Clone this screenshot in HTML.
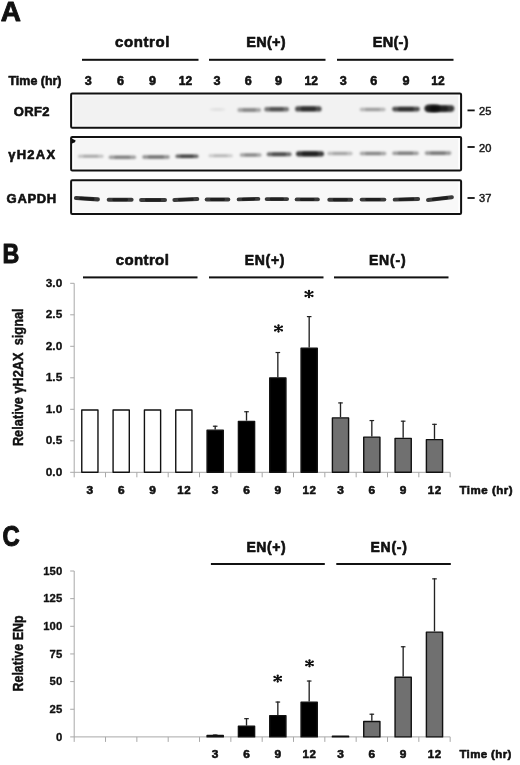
<!DOCTYPE html>
<html><head><meta charset="utf-8"><style>
html,body{margin:0;padding:0;background:#fff;}
svg{display:block;font-family:"Liberation Sans", sans-serif;-webkit-font-smoothing:antialiased;will-change:transform;}
</style></head><body>
<svg width="520" height="765" viewBox="0 0 520 765">
<defs><filter id="bl" filterUnits="userSpaceOnUse" x="0" y="0" width="520" height="765"><feGaussianBlur stdDeviation="1.0"/></filter><filter id="bl3" filterUnits="userSpaceOnUse" x="0" y="0" width="520" height="765"><feGaussianBlur stdDeviation="0.7"/></filter><filter id="bl2" filterUnits="userSpaceOnUse" x="0" y="0" width="520" height="765"><feGaussianBlur stdDeviation="0.4"/></filter></defs>
<rect width="520" height="765" fill="#fff"/>
<text x="0.8" y="21.1" font-size="28.5" font-weight="bold" text-anchor="start" fill="#111" stroke="#111" stroke-width="0.9" stroke-linejoin="round" textLength="20.2" lengthAdjust="spacingAndGlyphs">A</text>
<rect x="82.00" y="58.80" width="116.50" height="2.00" fill="#111"/>
<rect x="209.00" y="58.80" width="116.50" height="2.00" fill="#111"/>
<rect x="337.00" y="58.80" width="116.50" height="2.00" fill="#111"/>
<text x="115" y="46.6" font-size="15" font-weight="bold" text-anchor="start" fill="#111" stroke="#111" stroke-width="0.6" stroke-linejoin="round" textLength="54.3" lengthAdjust="spacing">control</text>
<text x="246.2" y="46.5" font-size="14.5" font-weight="bold" text-anchor="start" fill="#111" stroke="#111" stroke-width="0.6" stroke-linejoin="round" textLength="39.5" lengthAdjust="spacing">EN(+)</text>
<text x="372.8" y="46.5" font-size="14.5" font-weight="bold" text-anchor="start" fill="#111" stroke="#111" stroke-width="0.6" stroke-linejoin="round" textLength="35.7" lengthAdjust="spacing">EN(-)</text>
<text x="8.5" y="84.7" font-size="13" font-weight="bold" text-anchor="start" fill="#111" stroke="#111" stroke-width="0.6" stroke-linejoin="round" textLength="53" lengthAdjust="spacingAndGlyphs">Time (hr)</text>
<text x="88.2" y="85.4" font-size="13" font-weight="bold" text-anchor="middle" fill="#111" stroke="#111" stroke-width="0.6" stroke-linejoin="round" textLength="7.0" lengthAdjust="spacingAndGlyphs">3</text>
<text x="120.5" y="85.4" font-size="13" font-weight="bold" text-anchor="middle" fill="#111" stroke="#111" stroke-width="0.6" stroke-linejoin="round" textLength="7.0" lengthAdjust="spacingAndGlyphs">6</text>
<text x="152.6" y="85.4" font-size="13" font-weight="bold" text-anchor="middle" fill="#111" stroke="#111" stroke-width="0.6" stroke-linejoin="round" textLength="7.0" lengthAdjust="spacingAndGlyphs">9</text>
<text x="185.4" y="85.4" font-size="13" font-weight="bold" text-anchor="middle" fill="#111" stroke="#111" stroke-width="0.6" stroke-linejoin="round" textLength="13.4" lengthAdjust="spacingAndGlyphs">12</text>
<text x="216.9" y="85.4" font-size="13" font-weight="bold" text-anchor="middle" fill="#111" stroke="#111" stroke-width="0.6" stroke-linejoin="round" textLength="7.0" lengthAdjust="spacingAndGlyphs">3</text>
<text x="248.2" y="85.4" font-size="13" font-weight="bold" text-anchor="middle" fill="#111" stroke="#111" stroke-width="0.6" stroke-linejoin="round" textLength="7.0" lengthAdjust="spacingAndGlyphs">6</text>
<text x="278.5" y="85.4" font-size="13" font-weight="bold" text-anchor="middle" fill="#111" stroke="#111" stroke-width="0.6" stroke-linejoin="round" textLength="7.0" lengthAdjust="spacingAndGlyphs">9</text>
<text x="311.2" y="85.4" font-size="13" font-weight="bold" text-anchor="middle" fill="#111" stroke="#111" stroke-width="0.6" stroke-linejoin="round" textLength="13.4" lengthAdjust="spacingAndGlyphs">12</text>
<text x="343.2" y="85.4" font-size="13" font-weight="bold" text-anchor="middle" fill="#111" stroke="#111" stroke-width="0.6" stroke-linejoin="round" textLength="7.0" lengthAdjust="spacingAndGlyphs">3</text>
<text x="373.7" y="85.4" font-size="13" font-weight="bold" text-anchor="middle" fill="#111" stroke="#111" stroke-width="0.6" stroke-linejoin="round" textLength="7.0" lengthAdjust="spacingAndGlyphs">6</text>
<text x="406" y="85.4" font-size="13" font-weight="bold" text-anchor="middle" fill="#111" stroke="#111" stroke-width="0.6" stroke-linejoin="round" textLength="7.0" lengthAdjust="spacingAndGlyphs">9</text>
<text x="437.9" y="85.4" font-size="13" font-weight="bold" text-anchor="middle" fill="#111" stroke="#111" stroke-width="0.6" stroke-linejoin="round" textLength="13.4" lengthAdjust="spacingAndGlyphs">12</text>
<text x="13.8" y="116.2" font-size="13" font-weight="bold" text-anchor="start" fill="#111" stroke="#111" stroke-width="0.6" stroke-linejoin="round" textLength="35.6" lengthAdjust="spacing">ORF2</text>
<text x="8.2" y="159.3" font-size="13" font-weight="bold" text-anchor="start" fill="#111" stroke="#111" stroke-width="0.6" stroke-linejoin="round" textLength="47" lengthAdjust="spacing">γH2AX</text>
<text x="6.6" y="203.2" font-size="13" font-weight="bold" text-anchor="start" fill="#111" stroke="#111" stroke-width="0.6" stroke-linejoin="round" textLength="49.6" lengthAdjust="spacing">GAPDH</text>
<rect x="467.50" y="109.50" width="7.20" height="1.80" fill="#111"/>
<text x="479" y="114.5" font-size="11.5" font-weight="normal" text-anchor="start" fill="#1a1a1a" stroke="#1a1a1a" stroke-width="0.5" stroke-linejoin="round" textLength="12.3" lengthAdjust="spacingAndGlyphs">25</text>
<rect x="467.50" y="146.10" width="7.20" height="1.80" fill="#111"/>
<text x="479" y="151.8" font-size="11.5" font-weight="normal" text-anchor="start" fill="#1a1a1a" stroke="#1a1a1a" stroke-width="0.5" stroke-linejoin="round" textLength="12.3" lengthAdjust="spacingAndGlyphs">20</text>
<rect x="467.50" y="197.10" width="7.20" height="1.80" fill="#111"/>
<text x="479" y="202.4" font-size="11.5" font-weight="normal" text-anchor="start" fill="#1a1a1a" stroke="#1a1a1a" stroke-width="0.5" stroke-linejoin="round" textLength="12.3" lengthAdjust="spacingAndGlyphs">37</text>
<rect x="71.1" y="93.6" width="390" height="34.20000000000002" rx="1.2" fill="#fdfdfd" stroke="#111" stroke-width="2"/>
<rect x="74" y="95.6" width="384" height="30.200000000000017" fill="#f2f2f2"/>
<rect x="71.1" y="136.9" width="390" height="33.599999999999994" rx="1.2" fill="#fdfdfd" stroke="#111" stroke-width="2"/>
<rect x="74" y="138.9" width="384" height="29.599999999999994" fill="#f5f5f5"/>
<rect x="71.1" y="180.2" width="390" height="33.70000000000002" rx="1.2" fill="#fdfdfd" stroke="#111" stroke-width="2"/>
<rect x="74" y="182.2" width="384" height="29.700000000000017" fill="#f8f8f8"/>
<path d="M211.25 109.50Q217.50 109.50 223.75 109.50" stroke="#000" stroke-opacity="0.048" stroke-width="3.10" stroke-linecap="round" fill="none" filter="url(#bl)"/>
<path d="M214.12 109.50Q217.50 109.50 220.88 109.50" stroke="#000" stroke-opacity="0.030" stroke-width="2.25" stroke-linecap="round" fill="none" filter="url(#bl)"/>
<path d="M239.30 110.00Q249.25 110.00 259.20 110.00" stroke="#000" stroke-opacity="0.320" stroke-width="3.80" stroke-linecap="round" fill="none" filter="url(#bl)"/>
<path d="M243.76 110.00Q249.25 110.00 254.74 110.00" stroke="#000" stroke-opacity="0.200" stroke-width="2.88" stroke-linecap="round" fill="none" filter="url(#bl)"/>
<path d="M266.50 109.20Q276.65 109.20 286.80 109.20" stroke="#000" stroke-opacity="0.520" stroke-width="4.40" stroke-linecap="round" fill="none" filter="url(#bl)"/>
<path d="M271.13 109.20Q276.65 109.20 282.17 109.20" stroke="#000" stroke-opacity="0.325" stroke-width="3.42" stroke-linecap="round" fill="none" filter="url(#bl)"/>
<path d="M297.70 108.90Q308.35 108.90 319.00 108.90" stroke="#000" stroke-opacity="0.680" stroke-width="5.20" stroke-linecap="round" fill="none" filter="url(#bl)"/>
<path d="M302.65 108.90Q308.35 108.90 314.05 108.90" stroke="#000" stroke-opacity="0.425" stroke-width="4.14" stroke-linecap="round" fill="none" filter="url(#bl)"/>
<path d="M361.50 109.50Q372.65 109.50 383.80 109.50" stroke="#000" stroke-opacity="0.256" stroke-width="3.60" stroke-linecap="round" fill="none" filter="url(#bl)"/>
<path d="M366.41 109.50Q372.65 109.50 378.89 109.50" stroke="#000" stroke-opacity="0.160" stroke-width="2.70" stroke-linecap="round" fill="none" filter="url(#bl)"/>
<path d="M394.50 109.10Q406.00 109.10 417.50 109.10" stroke="#000" stroke-opacity="0.680" stroke-width="4.80" stroke-linecap="round" fill="none" filter="url(#bl)"/>
<path d="M399.73 109.10Q406.00 109.10 412.27 109.10" stroke="#000" stroke-opacity="0.425" stroke-width="3.78" stroke-linecap="round" fill="none" filter="url(#bl)"/>
<path d="M427.70 108.60Q439.35 108.60 451.00 108.60" stroke="#000" stroke-opacity="0.760" stroke-width="6.60" stroke-linecap="round" fill="none" filter="url(#bl)"/>
<path d="M433.26 108.60Q439.35 108.60 445.44 108.60" stroke="#000" stroke-opacity="0.475" stroke-width="5.40" stroke-linecap="round" fill="none" filter="url(#bl)"/>
<path d="M429.75 108.30Q433.00 108.30 436.25 108.30" stroke="#000" stroke-opacity="0.480" stroke-width="8.10" stroke-linecap="round" fill="none" filter="url(#bl)"/>
<path d="M432.18 108.30Q433.00 108.30 433.82 108.30" stroke="#000" stroke-opacity="0.300" stroke-width="6.75" stroke-linecap="round" fill="none" filter="url(#bl)"/>
<path d="M72 138.6L75.6 140.6L75 142.2L72 143.4Z" fill="#111" filter="url(#bl2)"/>
<path d="M79.55 156.25Q90.75 156.25 101.95 156.25" stroke="#000" stroke-opacity="0.224" stroke-width="3.20" stroke-linecap="round" fill="none" filter="url(#bl)"/>
<path d="M84.42 156.25Q90.75 156.25 97.08 156.25" stroke="#000" stroke-opacity="0.140" stroke-width="2.34" stroke-linecap="round" fill="none" filter="url(#bl)"/>
<path d="M110.40 157.30Q122.38 157.30 134.35 157.30" stroke="#000" stroke-opacity="0.360" stroke-width="3.40" stroke-linecap="round" fill="none" filter="url(#bl)"/>
<path d="M115.61 157.30Q122.38 157.30 129.14 157.30" stroke="#000" stroke-opacity="0.225" stroke-width="2.52" stroke-linecap="round" fill="none" filter="url(#bl)"/>
<path d="M143.90 157.00Q156.00 157.00 168.10 157.00" stroke="#000" stroke-opacity="0.416" stroke-width="3.40" stroke-linecap="round" fill="none" filter="url(#bl)"/>
<path d="M149.16 157.00Q156.00 157.00 162.84 157.00" stroke="#000" stroke-opacity="0.260" stroke-width="2.52" stroke-linecap="round" fill="none" filter="url(#bl)"/>
<path d="M177.20 156.25Q187.00 156.25 196.80 156.25" stroke="#000" stroke-opacity="0.600" stroke-width="3.50" stroke-linecap="round" fill="none" filter="url(#bl)"/>
<path d="M181.56 156.25Q187.00 156.25 192.44 156.25" stroke="#000" stroke-opacity="0.375" stroke-width="2.61" stroke-linecap="round" fill="none" filter="url(#bl)"/>
<path d="M210.05 155.75Q220.62 155.75 231.20 155.75" stroke="#000" stroke-opacity="0.176" stroke-width="3.20" stroke-linecap="round" fill="none" filter="url(#bl)"/>
<path d="M214.67 155.75Q220.62 155.75 226.58 155.75" stroke="#000" stroke-opacity="0.110" stroke-width="2.34" stroke-linecap="round" fill="none" filter="url(#bl)"/>
<path d="M241.50 155.00Q250.62 155.00 259.75 155.00" stroke="#000" stroke-opacity="0.336" stroke-width="3.60" stroke-linecap="round" fill="none" filter="url(#bl)"/>
<path d="M245.60 155.00Q250.62 155.00 255.65 155.00" stroke="#000" stroke-opacity="0.210" stroke-width="2.70" stroke-linecap="round" fill="none" filter="url(#bl)"/>
<path d="M268.70 154.30Q279.12 154.30 289.55 154.30" stroke="#000" stroke-opacity="0.560" stroke-width="4.00" stroke-linecap="round" fill="none" filter="url(#bl)"/>
<path d="M273.38 154.30Q279.12 154.30 284.87 154.30" stroke="#000" stroke-opacity="0.350" stroke-width="3.06" stroke-linecap="round" fill="none" filter="url(#bl)"/>
<path d="M298.55 153.80Q310.00 153.80 321.45 153.80" stroke="#000" stroke-opacity="0.760" stroke-width="5.20" stroke-linecap="round" fill="none" filter="url(#bl)"/>
<path d="M303.82 153.80Q310.00 153.80 316.18 153.80" stroke="#000" stroke-opacity="0.475" stroke-width="4.14" stroke-linecap="round" fill="none" filter="url(#bl)"/>
<path d="M329.00 153.50Q339.95 153.50 350.90 153.50" stroke="#000" stroke-opacity="0.240" stroke-width="3.40" stroke-linecap="round" fill="none" filter="url(#bl)"/>
<path d="M333.80 153.50Q339.95 153.50 346.10 153.50" stroke="#000" stroke-opacity="0.150" stroke-width="2.52" stroke-linecap="round" fill="none" filter="url(#bl)"/>
<path d="M361.40 153.50Q373.00 153.50 384.60 153.50" stroke="#000" stroke-opacity="0.336" stroke-width="3.40" stroke-linecap="round" fill="none" filter="url(#bl)"/>
<path d="M366.46 153.50Q373.00 153.50 379.54 153.50" stroke="#000" stroke-opacity="0.210" stroke-width="2.52" stroke-linecap="round" fill="none" filter="url(#bl)"/>
<path d="M394.00 153.20Q405.50 153.20 417.00 153.20" stroke="#000" stroke-opacity="0.368" stroke-width="3.60" stroke-linecap="round" fill="none" filter="url(#bl)"/>
<path d="M399.05 153.20Q405.50 153.20 411.95 153.20" stroke="#000" stroke-opacity="0.230" stroke-width="2.70" stroke-linecap="round" fill="none" filter="url(#bl)"/>
<path d="M426.50 153.10Q438.00 153.10 449.50 153.10" stroke="#000" stroke-opacity="0.384" stroke-width="3.60" stroke-linecap="round" fill="none" filter="url(#bl)"/>
<path d="M431.55 153.10Q438.00 153.10 444.45 153.10" stroke="#000" stroke-opacity="0.240" stroke-width="2.70" stroke-linecap="round" fill="none" filter="url(#bl)"/>
<path d="M76.00 198.01Q86.90 198.70 97.80 199.39" stroke="#000" stroke-opacity="0.776" stroke-width="4.20" stroke-linecap="round" fill="none" filter="url(#bl3)"/>
<path d="M80.90 198.32Q86.90 198.70 92.90 199.08" stroke="#000" stroke-opacity="0.485" stroke-width="3.24" stroke-linecap="round" fill="none" filter="url(#bl3)"/>
<path d="M108.65 199.70Q120.15 199.70 131.65 199.70" stroke="#000" stroke-opacity="0.760" stroke-width="3.90" stroke-linecap="round" fill="none" filter="url(#bl3)"/>
<path d="M113.75 199.70Q120.15 199.70 126.56 199.70" stroke="#000" stroke-opacity="0.475" stroke-width="2.97" stroke-linecap="round" fill="none" filter="url(#bl3)"/>
<path d="M141.05 200.00Q153.05 200.00 165.05 200.00" stroke="#000" stroke-opacity="0.760" stroke-width="3.90" stroke-linecap="round" fill="none" filter="url(#bl3)"/>
<path d="M146.35 200.00Q153.05 200.00 159.75 200.00" stroke="#000" stroke-opacity="0.475" stroke-width="2.97" stroke-linecap="round" fill="none" filter="url(#bl3)"/>
<path d="M174.35 200.02Q185.85 199.50 197.35 198.98" stroke="#000" stroke-opacity="0.760" stroke-width="3.90" stroke-linecap="round" fill="none" filter="url(#bl3)"/>
<path d="M179.44 199.79Q185.85 199.50 192.25 199.21" stroke="#000" stroke-opacity="0.475" stroke-width="2.97" stroke-linecap="round" fill="none" filter="url(#bl3)"/>
<path d="M206.65 199.50Q217.50 199.50 228.35 199.50" stroke="#000" stroke-opacity="0.760" stroke-width="3.90" stroke-linecap="round" fill="none" filter="url(#bl3)"/>
<path d="M211.49 199.50Q217.50 199.50 223.51 199.50" stroke="#000" stroke-opacity="0.475" stroke-width="2.97" stroke-linecap="round" fill="none" filter="url(#bl3)"/>
<path d="M238.65 199.36Q248.50 199.10 258.35 198.84" stroke="#000" stroke-opacity="0.760" stroke-width="3.90" stroke-linecap="round" fill="none" filter="url(#bl3)"/>
<path d="M243.09 199.24Q248.50 199.10 253.91 198.96" stroke="#000" stroke-opacity="0.475" stroke-width="2.97" stroke-linecap="round" fill="none" filter="url(#bl3)"/>
<path d="M266.65 199.10Q276.88 199.10 287.10 199.10" stroke="#000" stroke-opacity="0.760" stroke-width="3.90" stroke-linecap="round" fill="none" filter="url(#bl3)"/>
<path d="M271.24 199.10Q276.88 199.10 282.51 199.10" stroke="#000" stroke-opacity="0.475" stroke-width="2.97" stroke-linecap="round" fill="none" filter="url(#bl3)"/>
<path d="M296.65 199.40Q307.25 199.40 317.85 199.40" stroke="#000" stroke-opacity="0.760" stroke-width="3.90" stroke-linecap="round" fill="none" filter="url(#bl3)"/>
<path d="M301.38 199.40Q307.25 199.40 313.12 199.40" stroke="#000" stroke-opacity="0.475" stroke-width="2.97" stroke-linecap="round" fill="none" filter="url(#bl3)"/>
<path d="M329.25 199.80Q340.30 199.80 351.35 199.80" stroke="#000" stroke-opacity="0.760" stroke-width="3.90" stroke-linecap="round" fill="none" filter="url(#bl3)"/>
<path d="M334.17 199.80Q340.30 199.80 346.44 199.80" stroke="#000" stroke-opacity="0.475" stroke-width="2.97" stroke-linecap="round" fill="none" filter="url(#bl3)"/>
<path d="M361.65 199.60Q373.00 199.60 384.35 199.60" stroke="#000" stroke-opacity="0.760" stroke-width="3.90" stroke-linecap="round" fill="none" filter="url(#bl3)"/>
<path d="M366.69 199.60Q373.00 199.60 379.31 199.60" stroke="#000" stroke-opacity="0.475" stroke-width="2.97" stroke-linecap="round" fill="none" filter="url(#bl3)"/>
<path d="M394.65 199.65Q406.40 199.30 418.15 198.95" stroke="#000" stroke-opacity="0.760" stroke-width="3.90" stroke-linecap="round" fill="none" filter="url(#bl3)"/>
<path d="M399.85 199.50Q406.40 199.30 412.95 199.10" stroke="#000" stroke-opacity="0.475" stroke-width="2.97" stroke-linecap="round" fill="none" filter="url(#bl3)"/>
<path d="M428.00 199.91Q439.95 198.60 451.90 197.29" stroke="#000" stroke-opacity="0.760" stroke-width="4.00" stroke-linecap="round" fill="none" filter="url(#bl3)"/>
<path d="M433.29 199.33Q439.95 198.60 446.61 197.87" stroke="#000" stroke-opacity="0.475" stroke-width="3.06" stroke-linecap="round" fill="none" filter="url(#bl3)"/>
<text x="2.6" y="263.1" font-size="27.5" font-weight="bold" text-anchor="start" fill="#111" stroke="#111" stroke-width="1.0" stroke-linejoin="round" textLength="16.8" lengthAdjust="spacingAndGlyphs">B</text>
<rect x="83.00" y="276.40" width="114.50" height="2.00" fill="#111"/>
<rect x="209.00" y="276.40" width="114.50" height="2.00" fill="#111"/>
<rect x="334.00" y="276.40" width="114.50" height="2.00" fill="#111"/>
<text x="115.8" y="265.4" font-size="15" font-weight="bold" text-anchor="start" fill="#111" stroke="#111" stroke-width="0.6" stroke-linejoin="round" textLength="53" lengthAdjust="spacing">control</text>
<text x="244.8" y="265.3" font-size="14" font-weight="bold" text-anchor="start" fill="#111" stroke="#111" stroke-width="0.6" stroke-linejoin="round" textLength="39.6" lengthAdjust="spacing">EN(+)</text>
<text x="368.9" y="265.3" font-size="14" font-weight="bold" text-anchor="start" fill="#111" stroke="#111" stroke-width="0.6" stroke-linejoin="round" textLength="36.7" lengthAdjust="spacing">EN(-)</text>
<text x="62.2" y="475.90000000000003" font-size="10.2" font-weight="bold" text-anchor="end" fill="#111" stroke="#111" stroke-width="0.3" stroke-linejoin="round" textLength="16.4" lengthAdjust="spacingAndGlyphs">0.0</text>
<text x="62.2" y="444.40000000000003" font-size="10.2" font-weight="bold" text-anchor="end" fill="#111" stroke="#111" stroke-width="0.3" stroke-linejoin="round" textLength="16.4" lengthAdjust="spacingAndGlyphs">0.5</text>
<text x="62.2" y="412.90000000000003" font-size="10.2" font-weight="bold" text-anchor="end" fill="#111" stroke="#111" stroke-width="0.3" stroke-linejoin="round" textLength="16.4" lengthAdjust="spacingAndGlyphs">1.0</text>
<text x="62.2" y="381.40000000000003" font-size="10.2" font-weight="bold" text-anchor="end" fill="#111" stroke="#111" stroke-width="0.3" stroke-linejoin="round" textLength="16.4" lengthAdjust="spacingAndGlyphs">1.5</text>
<text x="62.2" y="349.90000000000003" font-size="10.2" font-weight="bold" text-anchor="end" fill="#111" stroke="#111" stroke-width="0.3" stroke-linejoin="round" textLength="16.4" lengthAdjust="spacingAndGlyphs">2.0</text>
<text x="62.2" y="318.40000000000003" font-size="10.2" font-weight="bold" text-anchor="end" fill="#111" stroke="#111" stroke-width="0.3" stroke-linejoin="round" textLength="16.4" lengthAdjust="spacingAndGlyphs">2.5</text>
<text x="62.2" y="286.90000000000003" font-size="10.2" font-weight="bold" text-anchor="end" fill="#111" stroke="#111" stroke-width="0.3" stroke-linejoin="round" textLength="16.4" lengthAdjust="spacingAndGlyphs">3.0</text>
<line x1="74.20" y1="283.30" x2="74.20" y2="477.30" stroke="#a8a8a8" stroke-width="1"/>
<line x1="70.20" y1="472.30" x2="74.20" y2="472.30" stroke="#a8a8a8" stroke-width="1"/>
<line x1="70.20" y1="440.80" x2="74.20" y2="440.80" stroke="#a8a8a8" stroke-width="1"/>
<line x1="70.20" y1="409.30" x2="74.20" y2="409.30" stroke="#a8a8a8" stroke-width="1"/>
<line x1="70.20" y1="377.80" x2="74.20" y2="377.80" stroke="#a8a8a8" stroke-width="1"/>
<line x1="70.20" y1="346.30" x2="74.20" y2="346.30" stroke="#a8a8a8" stroke-width="1"/>
<line x1="70.20" y1="314.80" x2="74.20" y2="314.80" stroke="#a8a8a8" stroke-width="1"/>
<line x1="70.20" y1="283.30" x2="74.20" y2="283.30" stroke="#a8a8a8" stroke-width="1"/>
<line x1="74.20" y1="472.30" x2="450.16" y2="472.30" stroke="#a8a8a8" stroke-width="1"/>
<line x1="105.53" y1="472.30" x2="105.53" y2="477.30" stroke="#a8a8a8" stroke-width="1"/>
<line x1="136.86" y1="472.30" x2="136.86" y2="477.30" stroke="#a8a8a8" stroke-width="1"/>
<line x1="168.19" y1="472.30" x2="168.19" y2="477.30" stroke="#a8a8a8" stroke-width="1"/>
<line x1="199.52" y1="472.30" x2="199.52" y2="477.30" stroke="#a8a8a8" stroke-width="1"/>
<line x1="230.85" y1="472.30" x2="230.85" y2="477.30" stroke="#a8a8a8" stroke-width="1"/>
<line x1="262.18" y1="472.30" x2="262.18" y2="477.30" stroke="#a8a8a8" stroke-width="1"/>
<line x1="293.51" y1="472.30" x2="293.51" y2="477.30" stroke="#a8a8a8" stroke-width="1"/>
<line x1="324.84" y1="472.30" x2="324.84" y2="477.30" stroke="#a8a8a8" stroke-width="1"/>
<line x1="356.17" y1="472.30" x2="356.17" y2="477.30" stroke="#a8a8a8" stroke-width="1"/>
<line x1="387.50" y1="472.30" x2="387.50" y2="477.30" stroke="#a8a8a8" stroke-width="1"/>
<line x1="418.83" y1="472.30" x2="418.83" y2="477.30" stroke="#a8a8a8" stroke-width="1"/>
<line x1="450.16" y1="472.30" x2="450.16" y2="477.30" stroke="#a8a8a8" stroke-width="1"/>
<rect x="81.77" y="410.00" width="16.20" height="62.30" fill="#fff" stroke="#111" stroke-width="1.4" stroke-linejoin="round"/>
<rect x="113.09" y="410.00" width="16.20" height="62.30" fill="#fff" stroke="#111" stroke-width="1.4" stroke-linejoin="round"/>
<rect x="144.42" y="410.00" width="16.20" height="62.30" fill="#fff" stroke="#111" stroke-width="1.4" stroke-linejoin="round"/>
<rect x="175.75" y="410.00" width="16.20" height="62.30" fill="#fff" stroke="#111" stroke-width="1.4" stroke-linejoin="round"/>
<line x1="215.19" y1="425.68" x2="215.19" y2="429.46" stroke="#222" stroke-width="1.35"/>
<line x1="212.88" y1="426.23" x2="217.49" y2="426.23" stroke="#222" stroke-width="1.2"/>
<rect x="207.08" y="430.16" width="16.20" height="42.14" fill="#000" stroke="#111" stroke-width="1.4" stroke-linejoin="round"/>
<line x1="246.51" y1="411.19" x2="246.51" y2="420.64" stroke="#222" stroke-width="1.35"/>
<line x1="244.21" y1="411.74" x2="248.81" y2="411.74" stroke="#222" stroke-width="1.2"/>
<rect x="238.41" y="421.34" width="16.20" height="50.96" fill="#000" stroke="#111" stroke-width="1.4" stroke-linejoin="round"/>
<line x1="277.84" y1="351.97" x2="277.84" y2="377.17" stroke="#222" stroke-width="1.35"/>
<line x1="275.54" y1="352.52" x2="280.14" y2="352.52" stroke="#222" stroke-width="1.2"/>
<rect x="269.74" y="377.87" width="16.20" height="94.43" fill="#000" stroke="#111" stroke-width="1.4" stroke-linejoin="round"/>
<line x1="309.18" y1="316.06" x2="309.18" y2="347.56" stroke="#222" stroke-width="1.35"/>
<line x1="306.88" y1="316.61" x2="311.48" y2="316.61" stroke="#222" stroke-width="1.2"/>
<rect x="301.07" y="348.26" width="16.20" height="124.04" fill="#000" stroke="#111" stroke-width="1.4" stroke-linejoin="round"/>
<line x1="340.50" y1="402.37" x2="340.50" y2="417.18" stroke="#222" stroke-width="1.35"/>
<line x1="338.20" y1="402.92" x2="342.81" y2="402.92" stroke="#222" stroke-width="1.2"/>
<rect x="332.40" y="417.88" width="16.20" height="54.42" fill="#707070" stroke="#111" stroke-width="1.4" stroke-linejoin="round"/>
<line x1="371.83" y1="420.01" x2="371.83" y2="436.39" stroke="#222" stroke-width="1.35"/>
<line x1="369.53" y1="420.56" x2="374.13" y2="420.56" stroke="#222" stroke-width="1.2"/>
<rect x="363.73" y="437.09" width="16.20" height="35.21" fill="#707070" stroke="#111" stroke-width="1.4" stroke-linejoin="round"/>
<line x1="403.16" y1="420.64" x2="403.16" y2="437.65" stroke="#222" stroke-width="1.35"/>
<line x1="400.86" y1="421.19" x2="405.46" y2="421.19" stroke="#222" stroke-width="1.2"/>
<rect x="395.06" y="438.35" width="16.20" height="33.95" fill="#707070" stroke="#111" stroke-width="1.4" stroke-linejoin="round"/>
<line x1="434.49" y1="423.79" x2="434.49" y2="438.91" stroke="#222" stroke-width="1.35"/>
<line x1="432.19" y1="424.34" x2="436.79" y2="424.34" stroke="#222" stroke-width="1.2"/>
<rect x="426.39" y="439.61" width="16.20" height="32.69" fill="#707070" stroke="#111" stroke-width="1.4" stroke-linejoin="round"/>
<text x="89.86500000000001" y="493.6" font-size="11.5" font-weight="bold" text-anchor="middle" fill="#111" stroke="#111" stroke-width="0.6" stroke-linejoin="round" textLength="6.6" lengthAdjust="spacingAndGlyphs">3</text>
<text x="121.195" y="493.6" font-size="11.5" font-weight="bold" text-anchor="middle" fill="#111" stroke="#111" stroke-width="0.6" stroke-linejoin="round" textLength="6.6" lengthAdjust="spacingAndGlyphs">6</text>
<text x="152.52499999999998" y="493.6" font-size="11.5" font-weight="bold" text-anchor="middle" fill="#111" stroke="#111" stroke-width="0.6" stroke-linejoin="round" textLength="6.6" lengthAdjust="spacingAndGlyphs">9</text>
<text x="183.85500000000002" y="493.6" font-size="11.5" font-weight="bold" text-anchor="middle" fill="#111" stroke="#111" stroke-width="0.6" stroke-linejoin="round" textLength="13.4" lengthAdjust="spacing">12</text>
<text x="215.185" y="493.6" font-size="11.5" font-weight="bold" text-anchor="middle" fill="#111" stroke="#111" stroke-width="0.6" stroke-linejoin="round" textLength="6.6" lengthAdjust="spacingAndGlyphs">3</text>
<text x="246.515" y="493.6" font-size="11.5" font-weight="bold" text-anchor="middle" fill="#111" stroke="#111" stroke-width="0.6" stroke-linejoin="round" textLength="6.6" lengthAdjust="spacingAndGlyphs">6</text>
<text x="277.84499999999997" y="493.6" font-size="11.5" font-weight="bold" text-anchor="middle" fill="#111" stroke="#111" stroke-width="0.6" stroke-linejoin="round" textLength="6.6" lengthAdjust="spacingAndGlyphs">9</text>
<text x="309.175" y="493.6" font-size="11.5" font-weight="bold" text-anchor="middle" fill="#111" stroke="#111" stroke-width="0.6" stroke-linejoin="round" textLength="13.4" lengthAdjust="spacing">12</text>
<text x="340.505" y="493.6" font-size="11.5" font-weight="bold" text-anchor="middle" fill="#111" stroke="#111" stroke-width="0.6" stroke-linejoin="round" textLength="6.6" lengthAdjust="spacingAndGlyphs">3</text>
<text x="371.835" y="493.6" font-size="11.5" font-weight="bold" text-anchor="middle" fill="#111" stroke="#111" stroke-width="0.6" stroke-linejoin="round" textLength="6.6" lengthAdjust="spacingAndGlyphs">6</text>
<text x="403.16499999999996" y="493.6" font-size="11.5" font-weight="bold" text-anchor="middle" fill="#111" stroke="#111" stroke-width="0.6" stroke-linejoin="round" textLength="6.6" lengthAdjust="spacingAndGlyphs">9</text>
<text x="434.49499999999995" y="493.6" font-size="11.5" font-weight="bold" text-anchor="middle" fill="#111" stroke="#111" stroke-width="0.6" stroke-linejoin="round" textLength="13.4" lengthAdjust="spacing">12</text>
<text x="459.4" y="493.8" font-size="11.5" font-weight="bold" text-anchor="start" fill="#111" stroke="#111" stroke-width="0.6" stroke-linejoin="round" textLength="53.3" lengthAdjust="spacing">Time (hr)</text>
<path d="M278.50 325.40L278.50 331.60M275.09 326.61L281.91 330.39M281.91 326.61L275.09 330.39" stroke="#111" stroke-width="1.5" stroke-linecap="round" fill="none"/><circle cx="278.50" cy="325.40" r="1.15" fill="#111"/><circle cx="278.50" cy="331.60" r="1.15" fill="#111"/><circle cx="275.09" cy="326.61" r="1.15" fill="#111"/><circle cx="281.91" cy="330.39" r="1.15" fill="#111"/><circle cx="281.91" cy="326.61" r="1.15" fill="#111"/><circle cx="275.09" cy="330.39" r="1.15" fill="#111"/>
<circle cx="278.5" cy="328.5" r="1.5" fill="#111"/>
<path d="M309.00 291.00L309.00 297.20M305.59 292.21L312.41 295.99M312.41 292.21L305.59 295.99" stroke="#111" stroke-width="1.5" stroke-linecap="round" fill="none"/><circle cx="309.00" cy="291.00" r="1.15" fill="#111"/><circle cx="309.00" cy="297.20" r="1.15" fill="#111"/><circle cx="305.59" cy="292.21" r="1.15" fill="#111"/><circle cx="312.41" cy="295.99" r="1.15" fill="#111"/><circle cx="312.41" cy="292.21" r="1.15" fill="#111"/><circle cx="305.59" cy="295.99" r="1.15" fill="#111"/>
<circle cx="309.0" cy="294.1" r="1.5" fill="#111"/>
<text transform="translate(22.8,446.1) rotate(-90)" font-size="14.5" font-weight="bold" fill="#111" stroke="#111" stroke-width="0.45" stroke-linejoin="round" textLength="137.7" lengthAdjust="spacingAndGlyphs">Relative γH2AX&#160; signal</text>
<text x="2.6" y="545.6" font-size="29" font-weight="bold" text-anchor="start" fill="#111" stroke="#111" stroke-width="1.1" stroke-linejoin="round" textLength="17.2" lengthAdjust="spacingAndGlyphs">C</text>
<rect x="210.90" y="563.00" width="113.90" height="2.00" fill="#111"/>
<rect x="336.30" y="563.00" width="114.50" height="2.00" fill="#111"/>
<text x="246.4" y="551.9" font-size="14" font-weight="bold" text-anchor="start" fill="#111" stroke="#111" stroke-width="0.6" stroke-linejoin="round" textLength="39.2" lengthAdjust="spacing">EN(+)</text>
<text x="370.4" y="551.9" font-size="14" font-weight="bold" text-anchor="start" fill="#111" stroke="#111" stroke-width="0.6" stroke-linejoin="round" textLength="36.5" lengthAdjust="spacing">EN(-)</text>
<text x="62.2" y="740.5" font-size="10.2" font-weight="bold" text-anchor="end" fill="#111" stroke="#111" stroke-width="0.3" stroke-linejoin="round" textLength="6.3" lengthAdjust="spacingAndGlyphs">0</text>
<text x="62.2" y="712.85" font-size="10.2" font-weight="bold" text-anchor="end" fill="#111" stroke="#111" stroke-width="0.3" stroke-linejoin="round" textLength="12.6" lengthAdjust="spacingAndGlyphs">25</text>
<text x="62.2" y="685.2" font-size="10.2" font-weight="bold" text-anchor="end" fill="#111" stroke="#111" stroke-width="0.3" stroke-linejoin="round" textLength="12.6" lengthAdjust="spacingAndGlyphs">50</text>
<text x="62.2" y="657.55" font-size="10.2" font-weight="bold" text-anchor="end" fill="#111" stroke="#111" stroke-width="0.3" stroke-linejoin="round" textLength="12.6" lengthAdjust="spacingAndGlyphs">75</text>
<text x="62.2" y="629.9" font-size="10.2" font-weight="bold" text-anchor="end" fill="#111" stroke="#111" stroke-width="0.3" stroke-linejoin="round" textLength="18.9" lengthAdjust="spacingAndGlyphs">100</text>
<text x="62.2" y="602.25" font-size="10.2" font-weight="bold" text-anchor="end" fill="#111" stroke="#111" stroke-width="0.3" stroke-linejoin="round" textLength="18.9" lengthAdjust="spacingAndGlyphs">125</text>
<text x="62.2" y="574.6" font-size="10.2" font-weight="bold" text-anchor="end" fill="#111" stroke="#111" stroke-width="0.3" stroke-linejoin="round" textLength="18.9" lengthAdjust="spacingAndGlyphs">150</text>
<line x1="74.20" y1="571.00" x2="74.20" y2="741.90" stroke="#a8a8a8" stroke-width="1"/>
<line x1="70.20" y1="736.90" x2="74.20" y2="736.90" stroke="#a8a8a8" stroke-width="1"/>
<line x1="70.20" y1="709.25" x2="74.20" y2="709.25" stroke="#a8a8a8" stroke-width="1"/>
<line x1="70.20" y1="681.60" x2="74.20" y2="681.60" stroke="#a8a8a8" stroke-width="1"/>
<line x1="70.20" y1="653.95" x2="74.20" y2="653.95" stroke="#a8a8a8" stroke-width="1"/>
<line x1="70.20" y1="626.30" x2="74.20" y2="626.30" stroke="#a8a8a8" stroke-width="1"/>
<line x1="70.20" y1="598.65" x2="74.20" y2="598.65" stroke="#a8a8a8" stroke-width="1"/>
<line x1="70.20" y1="571.00" x2="74.20" y2="571.00" stroke="#a8a8a8" stroke-width="1"/>
<line x1="74.20" y1="736.90" x2="450.16" y2="736.90" stroke="#a8a8a8" stroke-width="1"/>
<line x1="105.53" y1="736.90" x2="105.53" y2="741.90" stroke="#a8a8a8" stroke-width="1"/>
<line x1="136.86" y1="736.90" x2="136.86" y2="741.90" stroke="#a8a8a8" stroke-width="1"/>
<line x1="168.19" y1="736.90" x2="168.19" y2="741.90" stroke="#a8a8a8" stroke-width="1"/>
<line x1="199.52" y1="736.90" x2="199.52" y2="741.90" stroke="#a8a8a8" stroke-width="1"/>
<line x1="230.85" y1="736.90" x2="230.85" y2="741.90" stroke="#a8a8a8" stroke-width="1"/>
<line x1="262.18" y1="736.90" x2="262.18" y2="741.90" stroke="#a8a8a8" stroke-width="1"/>
<line x1="293.51" y1="736.90" x2="293.51" y2="741.90" stroke="#a8a8a8" stroke-width="1"/>
<line x1="324.84" y1="736.90" x2="324.84" y2="741.90" stroke="#a8a8a8" stroke-width="1"/>
<line x1="356.17" y1="736.90" x2="356.17" y2="741.90" stroke="#a8a8a8" stroke-width="1"/>
<line x1="387.50" y1="736.90" x2="387.50" y2="741.90" stroke="#a8a8a8" stroke-width="1"/>
<line x1="418.83" y1="736.90" x2="418.83" y2="741.90" stroke="#a8a8a8" stroke-width="1"/>
<line x1="450.16" y1="736.90" x2="450.16" y2="741.90" stroke="#a8a8a8" stroke-width="1"/>
<line x1="215.19" y1="734.47" x2="215.19" y2="734.80" stroke="#222" stroke-width="1.35"/>
<line x1="212.88" y1="735.02" x2="217.49" y2="735.02" stroke="#222" stroke-width="1.2"/>
<rect x="207.08" y="735.50" width="16.20" height="1.40" fill="#000" stroke="#111" stroke-width="1.4" stroke-linejoin="round"/>
<line x1="246.51" y1="718.10" x2="246.51" y2="725.62" stroke="#222" stroke-width="1.35"/>
<line x1="244.21" y1="718.65" x2="248.81" y2="718.65" stroke="#222" stroke-width="1.2"/>
<rect x="238.41" y="726.32" width="16.20" height="10.58" fill="#000" stroke="#111" stroke-width="1.4" stroke-linejoin="round"/>
<line x1="277.84" y1="701.51" x2="277.84" y2="714.89" stroke="#222" stroke-width="1.35"/>
<line x1="275.54" y1="702.06" x2="280.14" y2="702.06" stroke="#222" stroke-width="1.2"/>
<rect x="269.74" y="715.59" width="16.20" height="21.31" fill="#000" stroke="#111" stroke-width="1.4" stroke-linejoin="round"/>
<line x1="309.18" y1="680.49" x2="309.18" y2="701.51" stroke="#222" stroke-width="1.35"/>
<line x1="306.88" y1="681.04" x2="311.48" y2="681.04" stroke="#222" stroke-width="1.2"/>
<rect x="301.07" y="702.21" width="16.20" height="34.69" fill="#000" stroke="#111" stroke-width="1.4" stroke-linejoin="round"/>
<rect x="332.40" y="736.27" width="16.20" height="0.63" fill="#707070" stroke="#111" stroke-width="1.4" stroke-linejoin="round"/>
<line x1="371.83" y1="713.67" x2="371.83" y2="720.75" stroke="#222" stroke-width="1.35"/>
<line x1="369.53" y1="714.22" x2="374.13" y2="714.22" stroke="#222" stroke-width="1.2"/>
<rect x="363.73" y="721.45" width="16.20" height="15.45" fill="#707070" stroke="#111" stroke-width="1.4" stroke-linejoin="round"/>
<line x1="403.16" y1="646.21" x2="403.16" y2="676.62" stroke="#222" stroke-width="1.35"/>
<line x1="400.86" y1="646.76" x2="405.46" y2="646.76" stroke="#222" stroke-width="1.2"/>
<rect x="395.06" y="677.32" width="16.20" height="59.58" fill="#707070" stroke="#111" stroke-width="1.4" stroke-linejoin="round"/>
<line x1="434.49" y1="578.30" x2="434.49" y2="631.39" stroke="#222" stroke-width="1.35"/>
<line x1="432.19" y1="578.85" x2="436.79" y2="578.85" stroke="#222" stroke-width="1.2"/>
<rect x="426.39" y="632.09" width="16.20" height="104.81" fill="#707070" stroke="#111" stroke-width="1.4" stroke-linejoin="round"/>
<text x="215.185" y="757.8" font-size="11.5" font-weight="bold" text-anchor="middle" fill="#111" stroke="#111" stroke-width="0.6" stroke-linejoin="round" textLength="6.6" lengthAdjust="spacingAndGlyphs">3</text>
<text x="246.515" y="757.8" font-size="11.5" font-weight="bold" text-anchor="middle" fill="#111" stroke="#111" stroke-width="0.6" stroke-linejoin="round" textLength="6.6" lengthAdjust="spacingAndGlyphs">6</text>
<text x="277.84499999999997" y="757.8" font-size="11.5" font-weight="bold" text-anchor="middle" fill="#111" stroke="#111" stroke-width="0.6" stroke-linejoin="round" textLength="6.6" lengthAdjust="spacingAndGlyphs">9</text>
<text x="309.175" y="757.8" font-size="11.5" font-weight="bold" text-anchor="middle" fill="#111" stroke="#111" stroke-width="0.6" stroke-linejoin="round" textLength="13.4" lengthAdjust="spacing">12</text>
<text x="340.505" y="757.8" font-size="11.5" font-weight="bold" text-anchor="middle" fill="#111" stroke="#111" stroke-width="0.6" stroke-linejoin="round" textLength="6.6" lengthAdjust="spacingAndGlyphs">3</text>
<text x="371.835" y="757.8" font-size="11.5" font-weight="bold" text-anchor="middle" fill="#111" stroke="#111" stroke-width="0.6" stroke-linejoin="round" textLength="6.6" lengthAdjust="spacingAndGlyphs">6</text>
<text x="403.16499999999996" y="757.8" font-size="11.5" font-weight="bold" text-anchor="middle" fill="#111" stroke="#111" stroke-width="0.6" stroke-linejoin="round" textLength="6.6" lengthAdjust="spacingAndGlyphs">9</text>
<text x="434.49499999999995" y="757.8" font-size="11.5" font-weight="bold" text-anchor="middle" fill="#111" stroke="#111" stroke-width="0.6" stroke-linejoin="round" textLength="13.4" lengthAdjust="spacing">12</text>
<text x="459.4" y="758" font-size="11.5" font-weight="bold" text-anchor="start" fill="#111" stroke="#111" stroke-width="0.6" stroke-linejoin="round" textLength="52" lengthAdjust="spacing">Time (hr)</text>
<path d="M277.70 675.65L277.70 681.55M274.46 676.81L280.94 680.39M280.94 676.81L274.46 680.39" stroke="#111" stroke-width="1.5" stroke-linecap="round" fill="none"/><circle cx="277.70" cy="675.65" r="1.15" fill="#111"/><circle cx="277.70" cy="681.55" r="1.15" fill="#111"/><circle cx="274.46" cy="676.81" r="1.15" fill="#111"/><circle cx="280.94" cy="680.39" r="1.15" fill="#111"/><circle cx="280.94" cy="676.81" r="1.15" fill="#111"/><circle cx="274.46" cy="680.39" r="1.15" fill="#111"/>
<circle cx="277.7" cy="678.6" r="1.5" fill="#111"/>
<path d="M309.50 660.45L309.50 666.35M306.26 661.61L312.74 665.19M312.74 661.61L306.26 665.19" stroke="#111" stroke-width="1.5" stroke-linecap="round" fill="none"/><circle cx="309.50" cy="660.45" r="1.15" fill="#111"/><circle cx="309.50" cy="666.35" r="1.15" fill="#111"/><circle cx="306.26" cy="661.61" r="1.15" fill="#111"/><circle cx="312.74" cy="665.19" r="1.15" fill="#111"/><circle cx="312.74" cy="661.61" r="1.15" fill="#111"/><circle cx="306.26" cy="665.19" r="1.15" fill="#111"/>
<circle cx="309.5" cy="663.4" r="1.5" fill="#111"/>
<text transform="translate(23.3,691.5) rotate(-90)" font-size="14.5" font-weight="bold" fill="#111" stroke="#111" stroke-width="0.45" stroke-linejoin="round" textLength="76" lengthAdjust="spacingAndGlyphs">Relative ENp</text>
</svg>
</body></html>
